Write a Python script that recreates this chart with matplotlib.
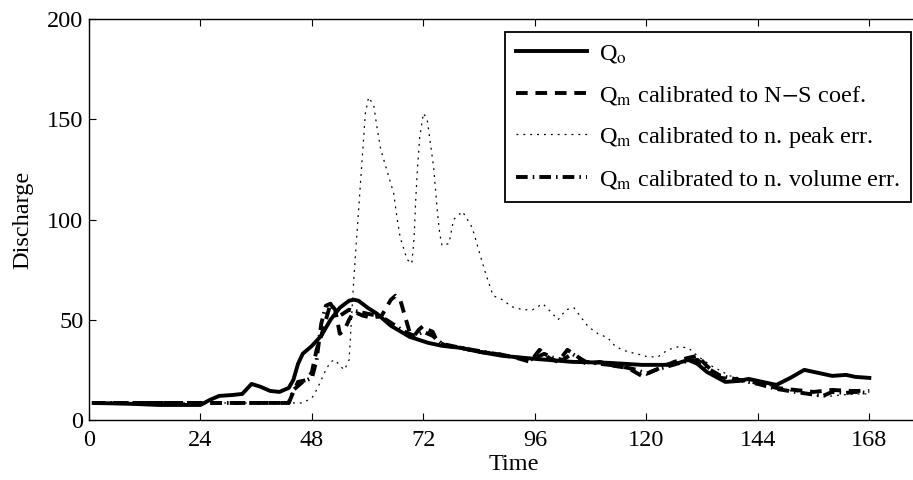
import numpy as np
import matplotlib
matplotlib.use("Agg")
import matplotlib.pyplot as plt

plt.rcParams['font.family'] = ['Liberation Serif', 'DejaVu Serif']
plt.rcParams['mathtext.fontset'] = 'stix'
plt.rcParams['font.size'] = 17.5

# observed discharge
t_obs = [1, 5, 10, 15, 20, 24, 26, 28, 31, 33, 35, 37, 39, 41, 43, 44, 45, 46, 48, 50,
         52, 54, 56, 57, 58, 60, 62, 65, 69, 73, 76, 80, 84, 89, 96, 104, 112, 119, 124,
         127, 129, 131, 133, 137, 140, 142, 145, 148, 151, 154, 157, 160, 163, 165, 168]
q_obs = [8.5, 8.3, 8, 7.5, 7.5, 7.5, 10, 12, 12.5, 13, 18, 16.5, 14.5, 14, 16, 20, 28, 33,
         37, 42, 50, 56, 59.5, 60, 59.5, 56, 53, 47, 41.5, 38.5, 37, 36, 34, 32, 30.5, 29,
         28.5, 27.5, 27.5, 28.5, 30, 28, 24, 19, 19.5, 20.5, 19, 17.5, 21, 25, 23.5, 22,
         22.5, 21.5, 21]

# model calibrated to N-S coefficient
t_ns = [1, 10, 20, 30, 43, 44, 45, 47, 48, 49, 50, 51, 52, 53, 54, 55, 56, 57, 59, 61,
        63, 64, 65, 66, 67, 68, 69, 70, 71, 72, 73, 74, 75, 77, 80, 84, 88, 92, 95, 97,
        99, 101, 103, 105, 107, 110, 113, 116, 119, 121, 123, 126, 129, 131, 133, 136,
        140, 144, 148, 152, 156, 160, 164, 168]
q_ns = [8.5, 8.5, 8.5, 8.5, 8.5, 14, 19, 20, 24, 35, 42, 50, 58, 55, 43, 45, 50, 54, 52,
        51, 52, 56, 60, 62, 60, 52, 44, 42, 45, 47, 45, 44, 39, 37, 36, 34, 33, 31, 29,
        35, 31, 29, 35, 32, 28, 29, 27, 26, 22, 24, 26, 29, 31, 32, 27, 21, 20, 18.5, 16,
        15, 14, 15, 14.5, 14.5]

# model calibrated to normalised peak error
t_pk = [1, 10, 20, 30, 40, 44, 46, 48, 49, 50, 51, 52, 53, 54, 55, 56, 57, 58.5, 59.5,
        60.2, 61.3, 62, 62.8, 64.2, 65.6, 66.3, 67, 68.5, 69.5, 70, 70.3, 70.7, 71.2, 72,
        72.8, 73.5, 74.2, 74.6, 75, 75.5, 76, 77.5, 78.5, 80.4, 82.5, 84, 85.4, 87, 89,
        91, 93.4, 95.5, 97.7, 99.4, 101, 102.7, 104.4, 106, 107.5, 109.6, 111.7, 113.4,
        116, 118, 120.3, 122.5, 124.6, 126.8, 129, 131, 134, 138, 142, 146, 150, 154,
        158, 162, 165, 168]
q_pk = [8.5, 8.5, 8.5, 8.5, 8.5, 8.5, 8.5, 11, 15, 20, 25, 29, 30, 27, 25, 30, 70, 120,
        153, 161, 157, 146, 135, 124, 113, 101, 91, 80, 78, 91, 108, 125, 141, 153, 150,
        138, 126, 115, 104, 93, 87, 88, 100, 104, 96, 84, 73, 62, 60, 56.5, 55, 55, 58,
        54, 50, 55, 56, 51, 46.5, 43, 41, 36.5, 34, 33, 31.5, 31.5, 35, 36.5, 36, 32, 27,
        22, 20, 17.5, 15, 13.5, 11.5, 12.5, 13, 13]

# model calibrated to normalised volume error
t_vol = [1, 10, 20, 30, 43, 44, 46, 48, 49, 50, 51, 52, 53, 54, 56, 58, 60, 62, 64, 66,
         68, 70, 72, 74, 76, 80, 85, 90, 95, 98, 100, 102, 104, 107, 110, 114, 118, 120,
         122, 125, 128, 131, 133, 136, 140, 144, 148, 152, 155, 158, 160, 163, 165, 168]
q_vol = [8.5, 8.5, 8.5, 8.5, 8.5, 15, 19, 21, 30, 48, 57, 58, 54, 52, 55, 54, 53, 52, 50,
         47, 44, 42, 44, 42, 38, 36, 34, 32, 30, 33, 31, 30, 33, 29, 28, 27, 25, 23, 25,
         27, 29, 30, 26, 22, 20, 18, 15.5, 14, 13, 12, 14, 13.5, 14, 13.5]

labels = [r'Q$_{\mathrm{o}}$',
          r'Q$_{\mathrm{m}}$ calibrated to N$-$S coef.',
          r'Q$_{\mathrm{m}}$ calibrated to n. peak err.',
          r'Q$_{\mathrm{m}}$ calibrated to n. volume err.']

fig = plt.figure(figsize=(9.13, 4.8), dpi=100)
# axes box runs past the right edge of the picture, as in the original
ax = fig.add_axes([89 / 913, 60 / 480, 850 / 913, 401 / 480])

ax.plot(t_obs, q_obs, color='black', lw=2.8, ls='-', label=labels[0])
ax.plot(t_ns, q_ns, color='black', lw=2.8, ls=(0, (3, 2)), label=labels[1])
ax.plot(t_pk, q_pk, color='black', lw=0.9, ls=(0, (1.5, 4)), label=labels[2])
ax.plot(t_vol, q_vol, color='black', lw=2.8, ls=(0, (3, 1.3, 0.4, 1.3)), label=labels[3])

ax.set_xlim(0, 183)
ax.set_ylim(0, 200)
ax.set_xticks(np.arange(0, 169, 24))
ax.set_yticks([0, 50, 100, 150, 200])
ax.tick_params(direction='in', top=True, right=True, length=5, width=0.8, pad=4)
ax.tick_params(axis='x', pad=7)
for s in ax.spines.values():
    s.set_linewidth(1.0)

ax.set_xlabel('Time', labelpad=2)
ax.set_ylabel('Discharge', labelpad=10)

leg = ax.legend(loc='upper right', bbox_to_anchor=(911 / 913, 1 - 32 / 480),
                bbox_transform=fig.transFigure, fancybox=False, framealpha=1,
                edgecolor='black', handlelength=2.9, handletextpad=0.5,
                labelspacing=0.75, borderpad=0.45, borderaxespad=0)
leg.get_frame().set_linewidth(1.3)

fig.savefig('out.png', dpi=100)
